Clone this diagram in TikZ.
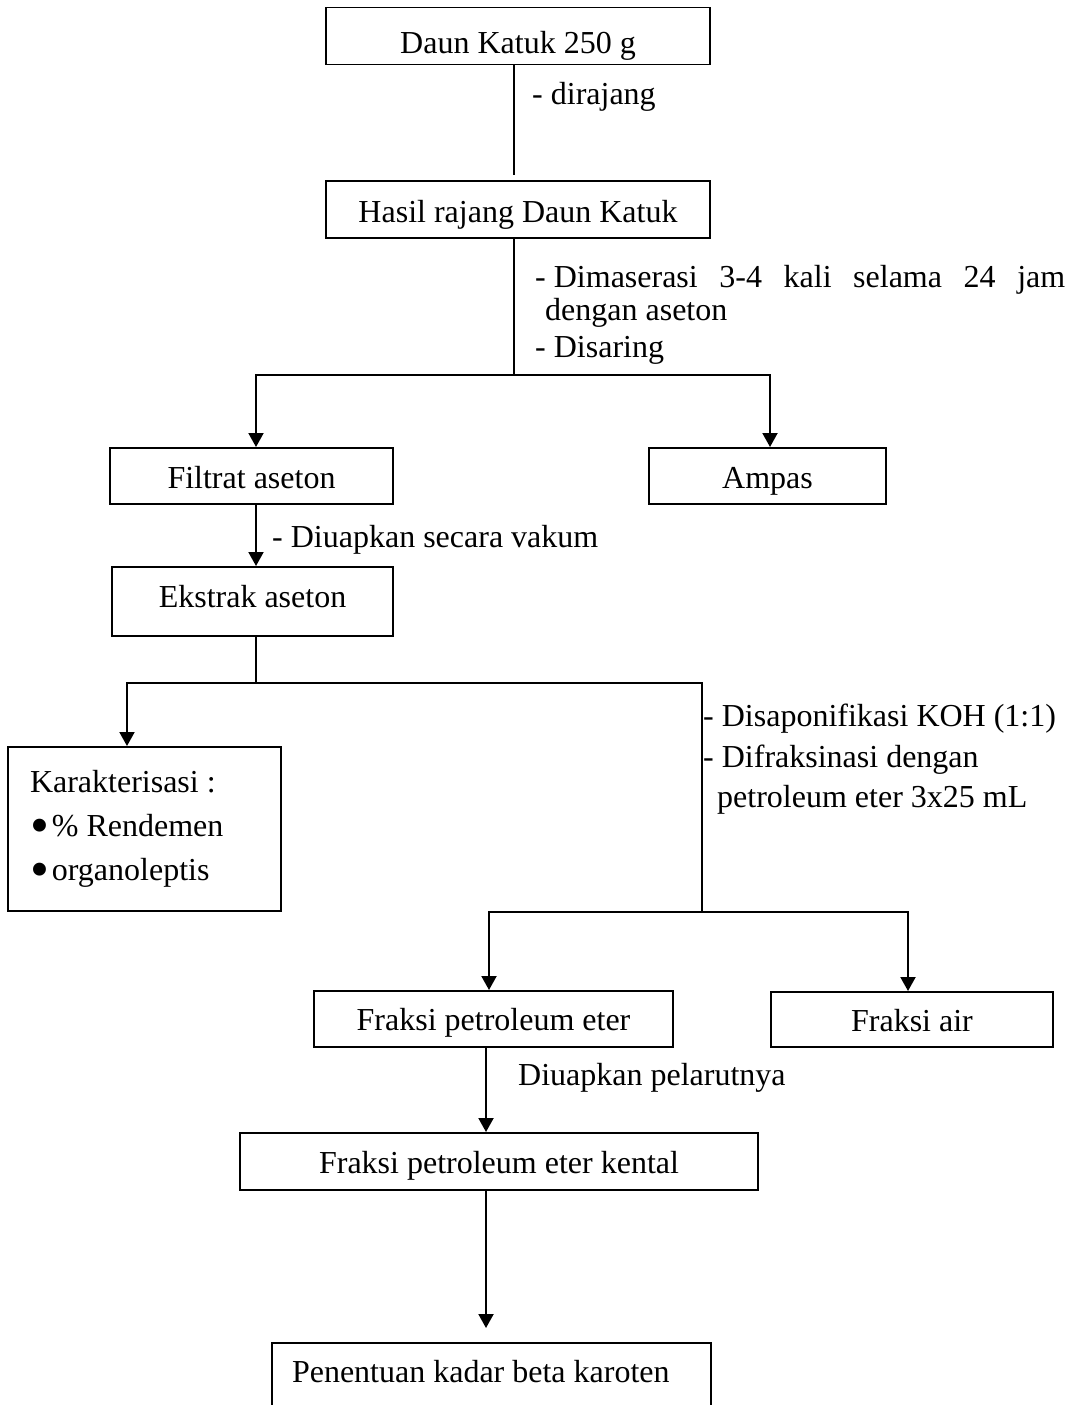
\documentclass[tikz,border=0pt]{standalone}
\usepackage{fontspec}
\setmainfont{Liberation Serif}
\usetikzlibrary{arrows.meta}
\newcommand{\bigbul}{\smash{\fontsize{54}{42}\selectfont\raisebox{-7pt}{•}}}
\begin{document}
\begin{tikzpicture}[x=1pt,y=-1pt,
  every node/.style={font=\fontsize{32}{38}\selectfont, inner sep=0pt},
  box/.style={draw, line width=1.5pt, anchor=north, inner xsep=0pt, inner ysep=0pt},
  lbl/.style={anchor=base west},
  plain/.style={line width=1.5pt, line cap=rect},
  arr/.style={line width=2pt, -{Triangle[length=14pt,width=15pt]}}]
\clip (0,0) rectangle (1073,1405);
% boxes
\node[box, minimum width=384pt, text height=46pt, text depth=11pt] (b1) at (518,7) {Daun Katuk 250 g};
\node[box, minimum width=384pt, text height=41.5pt, text depth=15.5pt] (b2) at (518,180) {Hasil rajang Daun Katuk};
\node[box, minimum width=283pt, text height=41pt, text depth=15pt] (b3) at (251.5,447) {Filtrat aseton};
\node[box, minimum width=237pt, text height=41pt, text depth=15pt] (b4) at (767.5,447) {Ampas};
\node[box, minimum width=281pt, text height=41pt, text depth=28pt] (b5) at (252.5,566) {Ekstrak aseton};
\node[box, minimum width=273pt, minimum height=164pt, text width=229pt, inner xsep=22pt, align=flush left,
      font=\fontsize{32}{44}\selectfont] (b6) at (144.5,746)
      {Karakterisasi :\\\bigbul\hspace{3pt}\% Rendemen\\\bigbul\hspace{3pt}organoleptis\par\vspace{10pt}};
\node[box, minimum width=359pt, text height=40pt, text depth=16pt] (b7) at (493.5,990) {Fraksi petroleum eter};
\node[box, minimum width=282pt, text height=40pt, text depth=15pt] (b8) at (912,991) {Fraksi air};
\node[box, minimum width=518pt, text height=41pt, text depth=16pt] (b9) at (499,1132) {Fraksi petroleum eter kental};
\node[box, minimum width=439pt, text width=399pt, inner xsep=20pt, align=flush left, text height=40pt, text depth=80pt] (b10) at (491.5,1342) {Penentuan kadar beta karoten};
% labels
\node[lbl] (t1) at (532,104) {- dirajang};
\node[lbl] (t2a) at (535,287) {\hbox to 530pt{- Dimaserasi\hfill 3-4\hfill kali\hfill selama\hfill 24\hfill jam}};
\node[lbl] (t2b) at (545,320) {dengan aseton};
\node[lbl] (t2c) at (535,357) {- Disaring};
\node[lbl] (t3) at (272,547) {- Diuapkan secara vakum};
\node[lbl] (t4a) at (703,726) {- Disaponifikasi KOH (1:1)};
\node[lbl] (t4b) at (703,767) {- Difraksinasi dengan};
\node[lbl] (t4c) at (717,807) {petroleum eter 3x25 mL};
\node[lbl] (t5) at (518,1085) {Diuapkan pelarutnya};
% junctions
\coordinate (v1) at (514,375);
\coordinate (j1) at (256,375);
\coordinate (j2) at (770,375);
\coordinate (v2) at (256,683);
\coordinate (j3) at (127,683);
\coordinate (j4) at (702,683);
\coordinate (v3) at (702,912);
\coordinate (j5) at (489,912);
\coordinate (j6) at (908,912);
\coordinate (v4) at (486,0);
% connectors
\draw[plain, shorten >=6pt] (b1.south -| v1) -- (b2.north -| v1);
\draw[plain] (b2.south -| v1) -- (v1);
\draw[plain] (j1) -- (j2);
\draw[arr] (j1) -- (b3.north -| j1);
\draw[arr] (j2) -- (b4.north -| j2);
\draw[arr] (b3.south -| j1) -- (b5.north -| j1);
\draw[plain] (b5.south -| v2) -- (v2);
\draw[plain] (j3) -- (j4);
\draw[arr] (j3) -- (b6.north -| j3);
\draw[plain] (j4) -- (v3);
\draw[plain] (j5) -- (j6);
\draw[arr] (j5) -- (b7.north -| j5);
\draw[arr] (j6) -- (b8.north -| j6);
\draw[arr] (b7.south -| v4) -- (b9.north -| v4);
\draw[arr, shorten >=14pt] (b9.south -| v4) -- (b10.north -| v4);
\end{tikzpicture}
\end{document}
